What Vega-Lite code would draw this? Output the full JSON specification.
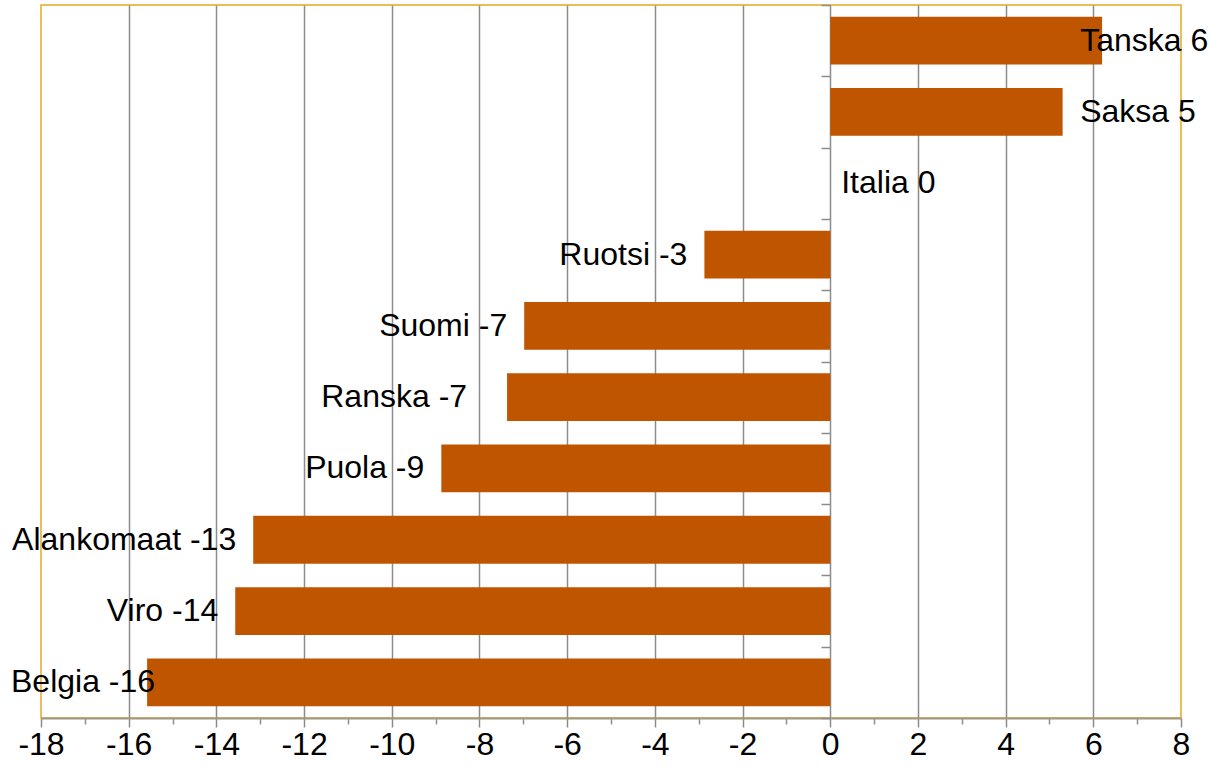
{
  "$schema": "https://vega.github.io/schema/vega-lite/v6.json",
  "width": 1140,
  "height": 713,
  "autosize": {"type": "none"},
  "padding": {"left": 41, "top": 5, "right": 30, "bottom": 53},
  "background": "white",
  "config": {
    "view": {"stroke": "#E8A820", "strokeWidth": 1.5},
    "font": "Liberation Sans"
  },
  "data": {
    "values": [
      {"country": "Tanska", "value": 6.2, "label": "Tanska 6"},
      {"country": "Saksa", "value": 5.3, "label": "Saksa 5"},
      {"country": "Italia", "value": 0, "label": "Italia 0"},
      {"country": "Ruotsi", "value": -2.87, "label": "Ruotsi -3"},
      {"country": "Suomi", "value": -6.98, "label": "Suomi -7"},
      {"country": "Ranska", "value": -7.37, "label": "Ranska -7"},
      {"country": "Puola", "value": -8.87, "label": "Puola -9"},
      {"country": "Alankomaat", "value": -13.16, "label": "Alankomaat -13"},
      {"country": "Viro", "value": -13.57, "label": "Viro -14"},
      {"country": "Belgia", "value": -15.58, "label": "Belgia -16"}
    ]
  },
  "encoding": {
    "y": {
      "field": "country",
      "type": "nominal",
      "sort": ["Tanska", "Saksa", "Italia", "Ruotsi", "Suomi", "Ranska", "Puola", "Alankomaat", "Viro", "Belgia"],
      "scale": {"paddingInner": 0, "paddingOuter": 0},
      "axis": {
        "title": null,
        "labels": false,
        "offset": -789,
        "domain": false,
        "tickBand": "extent",
        "tickSize": 9,
        "tickColor": "#8c8c8c",
        "tickWidth": 1.5,
        "zindex": 1
      }
    }
  },
  "layer": [
    {
      "mark": {"type": "bar", "color": "#C05500", "height": {"band": 0.67}},
      "encoding": {
        "x": {
          "field": "value",
          "type": "quantitative",
          "scale": {"domain": [-18, 8], "nice": false, "zero": false},
          "axis": {
            "title": null,
            "values": [-18, -17, -16, -15, -14, -13, -12, -11, -10, -9, -8, -7, -6, -5, -4, -3, -2, -1, 0, 1, 2, 3, 4, 5, 6, 7, 8],
            "labelExpr": "datum.value % 2 === 0 ? replace(datum.label, '\u2212', '-') : ''",
            "labelFontSize": 32,
            "labelColor": "#000000",
            "labelFont": "Liberation Sans",
            "labelPadding": 2,
            "labelFlush": false,
            "labelOverlap": false,
            "domainColor": "#a09880",
            "domainWidth": 2,
            "tickColor": "#8c8c8c",
            "tickWidth": 1.5,
            "tickSize": {"condition": {"test": "datum.value % 2 === 0", "value": 9}, "value": 6},
            "grid": true,
            "gridColor": "#8c8c8c",
            "gridWidth": 1.5,
            "gridOpacity": {"condition": {"test": "datum.value % 2 === 0 && datum.value > -18 && datum.value < 8", "value": 1}, "value": 0},
            "zindex": 0
          }
        }
      }
    },
    {
      "transform": [{"filter": "datum.value < 0 && datum.value > -15 && datum.country !== 'Ranska'"}],
      "mark": {"type": "text", "align": "right", "baseline": "middle", "dx": -17, "fontSize": 32, "color": "#000000", "font": "Liberation Sans"},
      "encoding": {
        "x": {"field": "value", "type": "quantitative"},
        "text": {"field": "label"}
      }
    },
    {
      "transform": [{"filter": "datum.country === 'Ranska'"}],
      "mark": {"type": "text", "align": "right", "baseline": "middle", "dx": -40, "fontSize": 32, "color": "#000000", "font": "Liberation Sans"},
      "encoding": {
        "x": {"field": "value", "type": "quantitative"},
        "text": {"field": "label"}
      }
    },
    {
      "transform": [{"filter": "datum.value <= -15"}],
      "mark": {"type": "text", "align": "right", "baseline": "middle", "dx": 8, "fontSize": 32, "color": "#000000", "font": "Liberation Sans"},
      "encoding": {
        "x": {"field": "value", "type": "quantitative"},
        "text": {"field": "label"}
      }
    },
    {
      "transform": [{"filter": "datum.value === 0"}],
      "mark": {"type": "text", "align": "left", "baseline": "middle", "dx": 11, "fontSize": 32, "color": "#000000", "font": "Liberation Sans"},
      "encoding": {
        "x": {"field": "value", "type": "quantitative"},
        "text": {"field": "label"}
      }
    },
    {
      "transform": [{"filter": "datum.value > 0"}],
      "mark": {"type": "text", "align": "left", "baseline": "middle", "fontSize": 32, "color": "#000000", "font": "Liberation Sans"},
      "encoding": {
        "x": {"datum": 5.7, "type": "quantitative"},
        "text": {"field": "label"}
      }
    }
  ]
}
